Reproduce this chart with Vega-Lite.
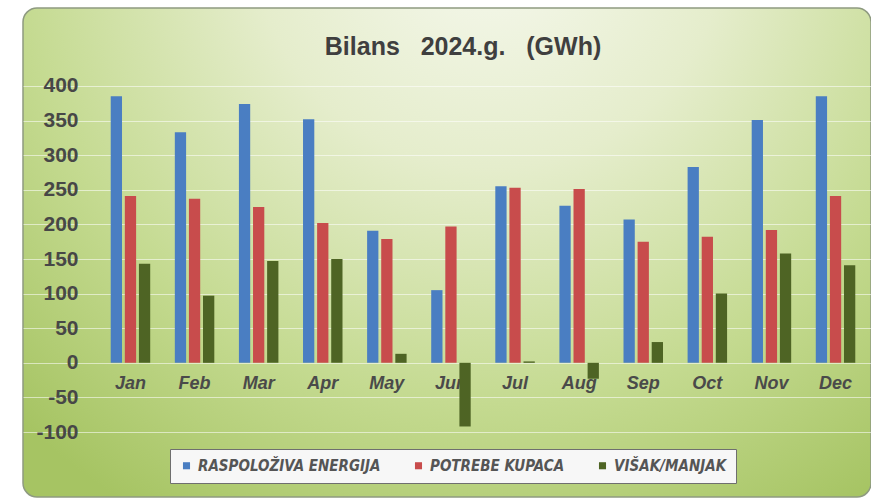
{
  "$schema": "https://vega.github.io/schema/vega-lite/v6.json",
  "width": 848,
  "height": 489,
  "autosize": {"type": "none"},
  "padding": {"left": 23, "top": 8, "right": 0, "bottom": 4},
  "background": "#ffffff",
  "view": {
    "cornerRadius": 14,
    "stroke": "#8e9a80",
    "strokeWidth": 1.5,
    "fill": {
      "gradient": "radial",
      "x1": 0.55, "y1": 0.12, "x2": 0.55, "y2": 0.12,
      "r1": 0, "r2": 0.8,
      "stops": [
        {"offset": 0, "color": "#f7f9f0"},
        {"offset": 0.35, "color": "#e5edcc"},
        {"offset": 0.7, "color": "#c4da90"},
        {"offset": 1, "color": "#a6c463"}
      ]
    }
  },
  "title": {
    "text": "Bilans\u00a0\u00a0 2024.g.\u00a0\u00a0 (GWh)",
    "frame": "group",
    "anchor": "middle",
    "offset": -52,
    "dx": 16,
    "font": "Liberation Sans",
    "fontSize": 25,
    "fontWeight": "bold",
    "color": "#3f3f3f"
  },
  "data": {
    "values": [
      {"month": "Jan", "series": "RASPOLOŽIVA ENERGIJA", "value": 385},
      {"month": "Jan", "series": "POTREBE KUPACA", "value": 241},
      {"month": "Jan", "series": "VIŠAK/MANJAK", "value": 143},
      {"month": "Feb", "series": "RASPOLOŽIVA ENERGIJA", "value": 333},
      {"month": "Feb", "series": "POTREBE KUPACA", "value": 237},
      {"month": "Feb", "series": "VIŠAK/MANJAK", "value": 97},
      {"month": "Mar", "series": "RASPOLOŽIVA ENERGIJA", "value": 374},
      {"month": "Mar", "series": "POTREBE KUPACA", "value": 225},
      {"month": "Mar", "series": "VIŠAK/MANJAK", "value": 147},
      {"month": "Apr", "series": "RASPOLOŽIVA ENERGIJA", "value": 352},
      {"month": "Apr", "series": "POTREBE KUPACA", "value": 202},
      {"month": "Apr", "series": "VIŠAK/MANJAK", "value": 150},
      {"month": "May", "series": "RASPOLOŽIVA ENERGIJA", "value": 191},
      {"month": "May", "series": "POTREBE KUPACA", "value": 179},
      {"month": "May", "series": "VIŠAK/MANJAK", "value": 13},
      {"month": "Jun", "series": "RASPOLOŽIVA ENERGIJA", "value": 105},
      {"month": "Jun", "series": "POTREBE KUPACA", "value": 197},
      {"month": "Jun", "series": "VIŠAK/MANJAK", "value": -92},
      {"month": "Jul", "series": "RASPOLOŽIVA ENERGIJA", "value": 255},
      {"month": "Jul", "series": "POTREBE KUPACA", "value": 253},
      {"month": "Jul", "series": "VIŠAK/MANJAK", "value": 2},
      {"month": "Aug", "series": "RASPOLOŽIVA ENERGIJA", "value": 227},
      {"month": "Aug", "series": "POTREBE KUPACA", "value": 251},
      {"month": "Aug", "series": "VIŠAK/MANJAK", "value": -23},
      {"month": "Sep", "series": "RASPOLOŽIVA ENERGIJA", "value": 207},
      {"month": "Sep", "series": "POTREBE KUPACA", "value": 175},
      {"month": "Sep", "series": "VIŠAK/MANJAK", "value": 30},
      {"month": "Oct", "series": "RASPOLOŽIVA ENERGIJA", "value": 283},
      {"month": "Oct", "series": "POTREBE KUPACA", "value": 182},
      {"month": "Oct", "series": "VIŠAK/MANJAK", "value": 100},
      {"month": "Nov", "series": "RASPOLOŽIVA ENERGIJA", "value": 351},
      {"month": "Nov", "series": "POTREBE KUPACA", "value": 192},
      {"month": "Nov", "series": "VIŠAK/MANJAK", "value": 158},
      {"month": "Dec", "series": "RASPOLOŽIVA ENERGIJA", "value": 385},
      {"month": "Dec", "series": "POTREBE KUPACA", "value": 241},
      {"month": "Dec", "series": "VIŠAK/MANJAK", "value": 141}
    ]
  },
  "mark": {"type": "bar"},
  "encoding": {
    "x": {
      "field": "month",
      "type": "nominal",
      "sort": ["Jan", "Feb", "Mar", "Apr", "May", "Jun", "Jul", "Aug", "Sep", "Oct", "Nov", "Dec"],
      "scale": {"paddingInner": 0.384, "paddingOuter": 0.807, "align": 0.848, "round": false},
      "axis": {
        "title": null,
        "orient": "bottom",
        "offset": -134,
        "domain": false,
        "ticks": false,
        "labelAngle": 0,
        "labelPadding": 11,
        "labelFont": "Liberation Sans",
        "labelFontSize": 18,
        "labelFontWeight": "bold",
        "labelFontStyle": "italic",
        "labelColor": "#4a4a4a",
        "grid": false
      }
    },
    "xOffset": {
      "field": "series",
      "type": "nominal",
      "sort": ["RASPOLOŽIVA ENERGIJA", "POTREBE KUPACA", "VIŠAK/MANJAK"],
      "scale": {"paddingInner": 0.2, "paddingOuter": 0}
    },
    "y": {
      "field": "value",
      "type": "quantitative",
      "scale": {"domain": [-193.9, 512.7], "nice": false, "zero": false},
      "axis": {
        "title": null,
        "offset": -67,
        "domain": false,
        "ticks": false,
        "values": [-100, -50, 0, 50, 100, 150, 200, 250, 300, 350, 400],
        "labelExpr": "'' + datum.value",
        "labelPadding": 12,
        "labelFont": "Liberation Sans",
        "labelFontSize": 21,
        "labelFontWeight": "bold",
        "labelColor": "#474747",
        "grid": true,
        "gridColor": "#ffffff",
        "gridOpacity": 0.55,
        "gridWidth": 1
      }
    },
    "color": {
      "field": "series",
      "type": "nominal",
      "sort": ["RASPOLOŽIVA ENERGIJA", "POTREBE KUPACA", "VIŠAK/MANJAK"],
      "scale": {
        "domain": ["RASPOLOŽIVA ENERGIJA", "POTREBE KUPACA", "VIŠAK/MANJAK"],
        "range": ["#4a7ec2", "#c84c4c", "#4e6424"]
      },
      "legend": {
        "title": null,
        "orient": "none",
        "legendX": 147,
        "legendY": 441,
        "direction": "horizontal",
        "fillColor": "#f7f7f7",
        "strokeColor": "#6f6f6f",
        "padding": 9,
        "symbolType": "square",
        "symbolSize": 50,
        "symbolStrokeWidth": 0,
        "labelFont": "DejaVu Sans Condensed",
        "labelFontSize": 15,
        "labelFontWeight": "bold",
        "labelFontStyle": "italic",
        "labelColor": "#555555",
        "labelLimit": 400,
        "labelOffset": 4,
        "columnPadding": 30
      }
    }
  }
}
